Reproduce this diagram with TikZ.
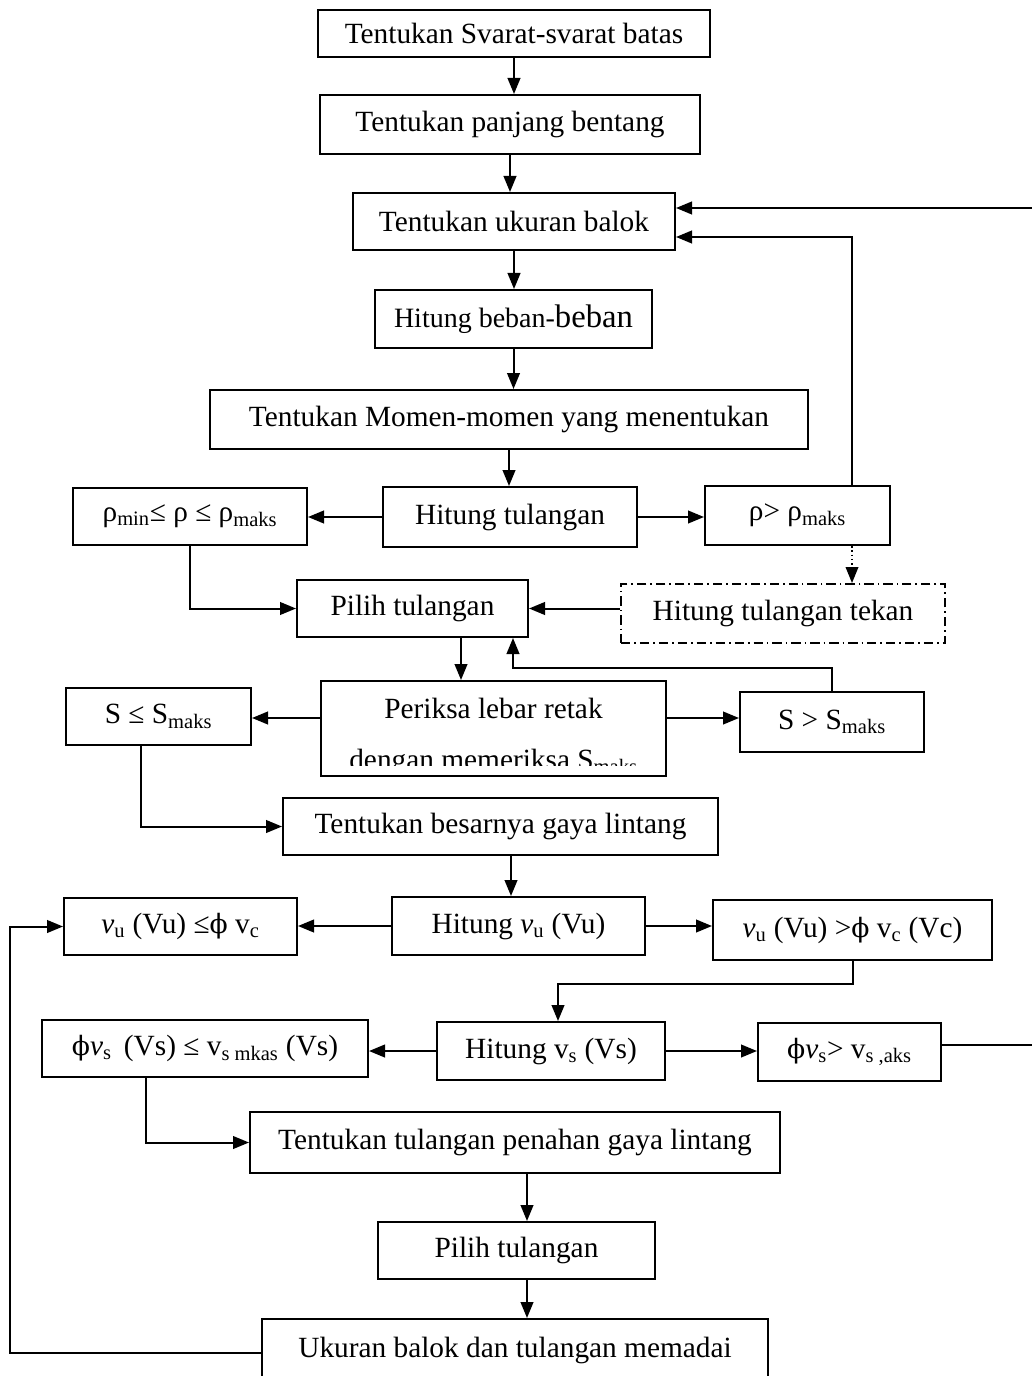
\documentclass[tikz,border=0pt]{standalone}
\usepackage{fontspec}
\setmainfont{Liberation Serif}
\newfontfamily\phifont{DejaVu Serif}
\usetikzlibrary{arrows.meta,calc}
\newcommand\sbs[1]{\textsubscript{#1}}
\newcommand\myphi{{\phifont\fontsize{20}{24}\selectfont ϕ}}
\begin{document}
\begin{tikzpicture}[x=0.75pt,y=-0.75pt,
  box/.style={draw,line width=1.5pt,inner sep=0pt,font=\fontsize{22}{26}\selectfont,fill=white},
  arr/.style={line width=1.5pt,-{Triangle[length=12pt,width=9.5pt]}},
  ln/.style={line width=1.5pt}]
\useasboundingbox (0,0) rectangle (1031,1376);
% nodes
\node[box,minimum width=392*0.75pt,minimum height=47*0.75pt] (b1) at (514,33.5) {Tentukan Svarat-svarat batas};
\node[box,minimum width=380*0.75pt,minimum height=59*0.75pt] (b2) at (510,124.5) {Tentukan panjang bentang};
\node[box,minimum width=322*0.75pt,minimum height=57*0.75pt] (b3) at (514,221.5) {Tentukan ukuran balok};
\node[box,minimum width=277*0.75pt,minimum height=58*0.75pt] (b4) at (513.5,319) {{\fontsize{21}{24}\selectfont Hitung beban-}{\fontsize{24.5}{28}\selectfont beban}};
\node[box,minimum width=598*0.75pt,minimum height=59*0.75pt] (b5) at (509,419.5) {Tentukan Momen-momen yang menentukan};
\node[box,minimum width=254*0.75pt,minimum height=60*0.75pt] (b6) at (510,517) {Hitung tulangan};
\node[box,minimum width=234*0.75pt,minimum height=57*0.75pt] (b7) at (190,516.5) {ρ\sbs{min}≤ ρ ≤ ρ\sbs{maks}};
\node[box,minimum width=185*0.75pt,minimum height=59*0.75pt] (b8) at (797.5,515.5) {ρ> ρ\sbs{maks}};
\node[box,minimum width=231*0.75pt,minimum height=57*0.75pt] (b9) at (412.5,608.5) {Pilih tulangan};
\node[box,minimum width=324*0.75pt,minimum height=59*0.75pt,dash pattern=on 7pt off 3pt on 1.2pt off 3pt] (b10) at (783,613.5) {Hitung tulangan tekan};
\node[box,minimum width=345*0.75pt,minimum height=95*0.75pt] (b11) at (493.5,728.5) {};
\begin{scope}
  \clip (324,684) rectangle (663,765);
  \node[font=\fontsize{22}{26}\selectfont,anchor=base,inner sep=0pt] (t11a) at (493.5,718) {Periksa lebar retak};
  \node[font=\fontsize{22}{26}\selectfont,anchor=base,inner sep=0pt] (t11b) at (493.5,769) {dengan memeriksa S\sbs{maks}};
\end{scope}
\node[box,minimum width=185*0.75pt,minimum height=57*0.75pt] (b12) at (158.5,716.5) {S ≤ S\sbs{maks}};
\node[box,minimum width=184*0.75pt,minimum height=60*0.75pt] (b13) at (832,722) {S > S\sbs{maks}};
\node[box,minimum width=435*0.75pt,minimum height=57*0.75pt] (b14) at (500.5,826.5) {Tentukan besarnya gaya lintang};
\node[box,minimum width=233*0.75pt,minimum height=57*0.75pt] (b15) at (180.5,926.5) {\textit{v}\sbs{u} (Vu) ≤\myphi\ v\sbs{c}};
\node[box,minimum width=253*0.75pt,minimum height=58*0.75pt] (b16) at (518.5,926) {Hitung \textit{v}\sbs{u} (Vu)};
\node[box,minimum width=279*0.75pt,minimum height=60*0.75pt] (b17) at (852.5,930) {\textit{v}\sbs{u} (Vu) >\myphi\ v\sbs{c} (Vc)};
\node[box,minimum width=326*0.75pt,minimum height=57*0.75pt] (b18) at (205,1048.5) {\myphi\textit{v}\sbs{s}\, (Vs) ≤ v\sbs{s mkas} (Vs)};
\node[box,minimum width=228*0.75pt,minimum height=58*0.75pt] (b19) at (551,1051) {Hitung v\sbs{s} (Vs)};
\node[box,minimum width=183*0.75pt,minimum height=58*0.75pt] (b20) at (849.5,1052) {\myphi\textit{v}\sbs{s}> v\sbs{s ,aks}};
\node[box,minimum width=530*0.75pt,minimum height=61*0.75pt] (b21) at (515,1142.5) {Tentukan tulangan penahan gaya lintang};
\node[box,minimum width=277*0.75pt,minimum height=57*0.75pt] (b22) at (516.5,1250.5) {Pilih tulangan};
\node[box,minimum width=506*0.75pt,text height=28.5pt,text depth=30pt,anchor=north] (b23) at (515,1318) {Ukuran balok dan tulangan memadai};
% helper coordinates
\coordinate (k1) at (852,237);
\coordinate (k2) at (461,0);
\coordinate (k3) at (513,668);
\coordinate (k4) at (0,718);
\coordinate (k5) at (141,0);
\coordinate (k6) at (511,0);
\coordinate (k7) at (558,984);
\coordinate (k8) at (146,0);
\coordinate (k9) at (527,0);
\coordinate (k10) at (10,1353);
\coordinate (k12) at (0,1045);
\coordinate (k13) at (1040,208);
% connectors
\draw[arr] (b1) -- (b1 |- b2.north);
\draw[arr] (b2) -- (b2 |- b3.north);
\draw[arr] (b3) -- (b3 |- b4.north);
\draw[arr] (b4) -- (b4 |- b5.north);
\draw[arr] (b5) -- (b5 |- b6.north);
\draw[arr] (b6.west) -- (b6.west -| b7.east);
\draw[arr] (b6.east) -- (b6.east -| b8.west);
\draw[arr] (b8.north -| k1) |- (b3.east |- k1);
\draw[line width=1.2pt,dotted,-{Triangle[length=12pt,width=9.5pt]}] (b8.south -| k1) -- (b10.north -| k1);
\draw[arr] (b7.south) |- (b9.west);
\draw[arr] (b9.east -| b10.west) -- (b9.east);
\draw[arr] (b9.south -| k2) -- (b11.north -| k2);
\draw[arr] (b13.north) |- (k3) -- (k3 |- b9.south);
\draw[arr] (b11.west |- k4) -- (b12.east |- k4);
\draw[arr] (b11.east |- k4) -- (b13.west |- k4);
\draw[arr] (b12.south -| k5) |- (b14.west);
\draw[arr] (b14.south -| k6) -- (b16.north -| k6);
\draw[arr] (b16.west) -- (b16.west -| b15.east);
\draw[arr] (b16.east) -- (b16.east -| b17.west);
\draw[arr] (b17.south) |- (k7) -- (k7 |- b19.north);
\draw[arr] (b19.west) -- (b19.west -| b18.east);
\draw[arr] (b19.east) -- (b19.east -| b20.west);
\draw[arr] (b18.south -| k8) |- (b21.west);
\draw[arr] (b21.south -| k9) -- (b22.north -| k9);
\draw[arr] (b22.south -| k9) -- (b23.north -| k9);
\draw[arr] (b23.west |- k10) -- (k10) |- (b15.west);
\draw[arr] (b20.east |- k12) -| (k13) -- (b3.east |- k13);
\end{tikzpicture}
\end{document}
